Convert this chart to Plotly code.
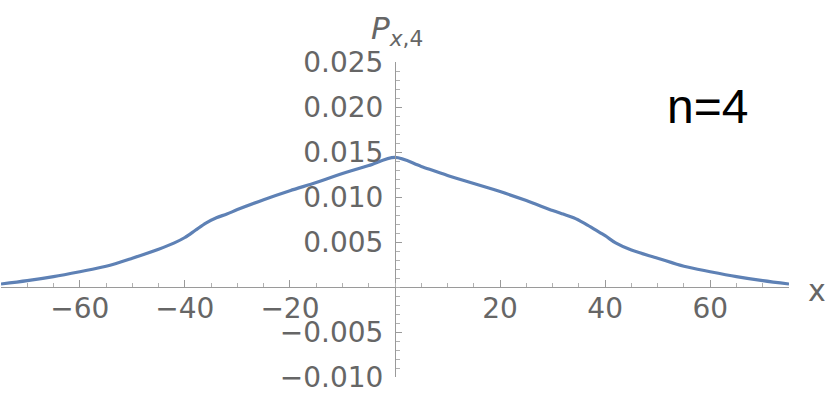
import plotly.graph_objects as go

# Data
x_vals = [-75, -70, -65, -60, -55, -50, -45, -42, -40, -38, -36, -34, -32, -30, -25, -20, -15, -10, -5, 0,
          5, 10, 15, 20, 25, 30, 32, 34, 36, 38, 40, 42, 45, 50, 55, 60, 65, 70, 75]
p_vals = [0.00033, 0.0007, 0.00115, 0.0017, 0.0023, 0.0032, 0.0042, 0.0049, 0.0055, 0.0063, 0.0071, 0.0077,
          0.0081, 0.0086, 0.0097, 0.0107, 0.0116, 0.0126, 0.0135, 0.0144,
          0.0134, 0.0124, 0.0115, 0.0106, 0.0096, 0.0085, 0.0081, 0.0077, 0.0071, 0.0064, 0.0057, 0.0049,
          0.0041, 0.0032, 0.0023, 0.0017, 0.00115, 0.0007, 0.00033]

x_ticks = [-60, -40, -20, 20, 40, 60]
x_ticktext = ["\u221260", "\u221240", "\u221220", "20", "40", "60"]
y_ticks = [-0.010, -0.005, 0.005, 0.010, 0.015, 0.020, 0.025]
y_ticktext = ["\u22120.010", "\u22120.005", "0.005", "0.010", "0.015", "0.020", "0.025"]

x_range = [-75, 75]
y_range = [-0.010, 0.025]

axis_col = "#9a9a9a"
label_col = "#666666"
tick_font = dict(family="DejaVu Sans", size=28, color=label_col)

fig = go.Figure()
fig.add_trace(go.Scatter(x=x_vals, y=p_vals, mode="lines",
                         line=dict(color="#5E81B5", width=3.2, shape="spline", smoothing=0.9),
                         hoverinfo="skip"))

fig.update_layout(
    width=830, height=399,
    margin=dict(l=1, r=41, t=62, b=22, autoexpand=False),
    paper_bgcolor="white", plot_bgcolor="white",
    showlegend=False,
    xaxis=dict(range=x_range, domain=[0, 1], anchor="free", automargin=False,
               position=(0 - y_range[0]) / (y_range[1] - y_range[0]),
               showgrid=False, zeroline=False, showline=True, linecolor=axis_col, linewidth=1,
               tickvals=x_ticks, ticktext=x_ticktext, ticks="inside", ticklen=7, tickcolor=axis_col,
               tickwidth=1, tickfont=tick_font, ticklabelstandoff=-4,
               minor=dict(dtick=5, tick0=0, ticks="inside", ticklen=4, tickcolor="#b0b0b0", tickwidth=1)),
    yaxis=dict(range=y_range, domain=[0, 1], anchor="free", automargin=False,
               position=(0 - x_range[0]) / (x_range[1] - x_range[0]),
               showgrid=False, zeroline=False, showline=True, linecolor=axis_col, linewidth=1,
               tickvals=y_ticks, ticktext=y_ticktext, ticks="inside", ticklen=6, tickcolor=axis_col,
               tickwidth=1, tickfont=tick_font, ticklabelstandoff=6,
               minor=dict(dtick=0.001, tick0=0, ticks="inside", ticklen=3.5, tickcolor="#b0b0b0", tickwidth=1)),
)

fig.add_annotation(x=0.503, y=1.10, xref="paper", yref="paper", showarrow=False,
                   text="<i>P</i><sub><i>x</i>,4</sub>",
                   font=dict(family="DejaVu Sans", size=31, color=label_col),
                   xanchor="center", yanchor="middle")
fig.add_annotation(x=1.035, y=0.276, xref="paper", yref="paper", showarrow=False,
                   text="x", font=dict(family="DejaVu Sans", size=30, color=label_col),
                   xanchor="center", yanchor="middle")
fig.add_annotation(x=0.897, y=0.860, xref="paper", yref="paper", showarrow=False,
                   text="n=4", font=dict(family="Liberation Sans", size=48, color="black"),
                   xanchor="center", yanchor="middle")

fig.write_html("out.html", config={"displayModeBar": False},
               post_script="document.body.style.margin='0';document.body.style.overflow='hidden';")
